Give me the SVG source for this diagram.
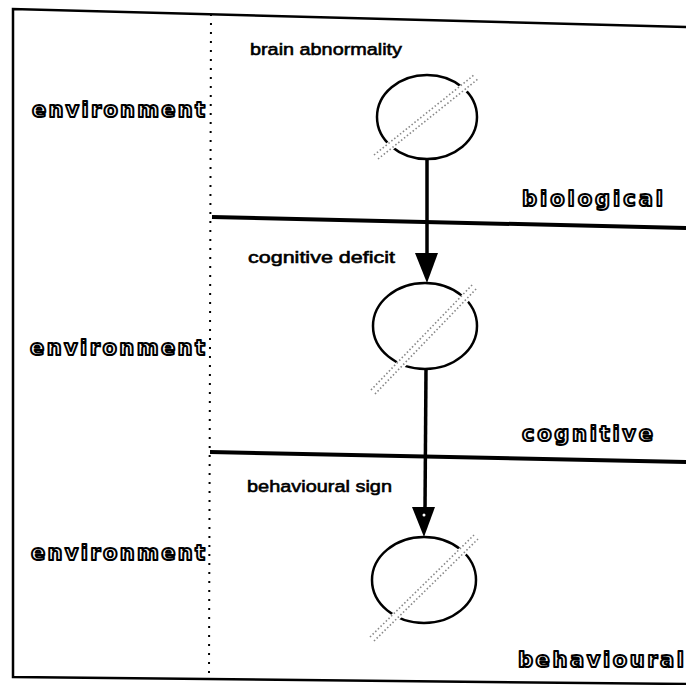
<svg xmlns="http://www.w3.org/2000/svg" width="686" height="685" viewBox="0 0 686 685">
<defs>
<style>
.frame{stroke:#000;stroke-width:2.5;fill:none;stroke-linecap:round}
.dots{stroke:#000;stroke-width:2;stroke-dasharray:2 7;fill:none}
.band{stroke:#000;stroke-width:4;fill:none}
.conn{stroke:#000;stroke-width:3.5;fill:none}
.node{fill:none;stroke:#000;stroke-width:2.5}
.gap{stroke:#fff;stroke-width:9;fill:none}
.hatch{stroke:#888;stroke-width:1.6;stroke-dasharray:1.5 2.2;fill:none}
.lbl{font-family:"Liberation Sans","DejaVu Sans",sans-serif;font-size:17px;fill:#000;stroke:#000;stroke-width:0.6}
.big{font-family:"DejaVu Sans",sans-serif;font-weight:bold;font-size:21px;fill:#fff;stroke:#000;stroke-width:2;stroke-linejoin:round}
</style>
</defs>
<rect width="686" height="685" fill="#fff"/>
<g id="frame">
<polyline class="frame" points="686,27 13,9 13,677 686,684"/>
<line class="dots" x1="211" y1="14" x2="209" y2="674"/>
<line class="band" x1="212" y1="217" x2="686" y2="228"/>
<line class="band" x1="210" y1="452" x2="686" y2="462"/>
</g>
<g id="levels">
<text class="big" x="32" y="117" textLength="173" lengthAdjust="spacing">environment</text>
<text class="big" x="30" y="355" textLength="175" lengthAdjust="spacing">environment</text>
<text class="big" x="31" y="560" textLength="174" lengthAdjust="spacing">environment</text>
<text class="big" x="522" y="206" textLength="141" lengthAdjust="spacing">biological</text>
<text class="big" x="522" y="441" textLength="131" lengthAdjust="spacing">cognitive</text>
<text class="big" x="518" y="667" textLength="166" lengthAdjust="spacing">behavioural</text>
</g>
<g id="connectors">
<line class="conn" x1="427" y1="159" x2="427" y2="256"/>
<polygon points="415,253 438,253 427,283" fill="#000"/>
<line class="conn" x1="426" y1="368" x2="425" y2="510"/>
<polygon points="412,507 435,507 424,537" fill="#000"/>
<circle cx="424" cy="515" r="1.5" fill="#fff"/>
</g>
<g id="node-brain">
<text class="lbl" x="250" y="55" textLength="152" lengthAdjust="spacingAndGlyphs">brain abnormality</text>
<ellipse class="node" cx="427" cy="117" rx="50" ry="42"/>
<line class="gap" x1="380" y1="154" x2="474" y2="80"/>
<line class="hatch" x1="374" y1="155" x2="474" y2="75"/>
<line class="hatch" x1="378" y1="159" x2="478" y2="79"/>
</g>
<g id="node-cognitive">
<text class="lbl" x="248" y="263" textLength="147" lengthAdjust="spacingAndGlyphs">cognitive deficit</text>
<ellipse class="node" cx="425" cy="326" rx="52" ry="43"/>
<line class="gap" x1="378" y1="388" x2="473" y2="290"/>
<line class="hatch" x1="371" y1="390" x2="473" y2="284"/>
<line class="hatch" x1="375" y1="394" x2="477" y2="288"/>
</g>
<g id="node-behavioural">
<text class="lbl" x="247" y="492" textLength="145" lengthAdjust="spacingAndGlyphs">behavioural sign</text>
<ellipse class="node" cx="424" cy="580" rx="52" ry="43"/>
<line class="gap" x1="377" y1="635" x2="473" y2="541"/>
<line class="hatch" x1="370" y1="637" x2="474" y2="535"/>
<line class="hatch" x1="374" y1="641" x2="478" y2="539"/>
</g>
</svg>
